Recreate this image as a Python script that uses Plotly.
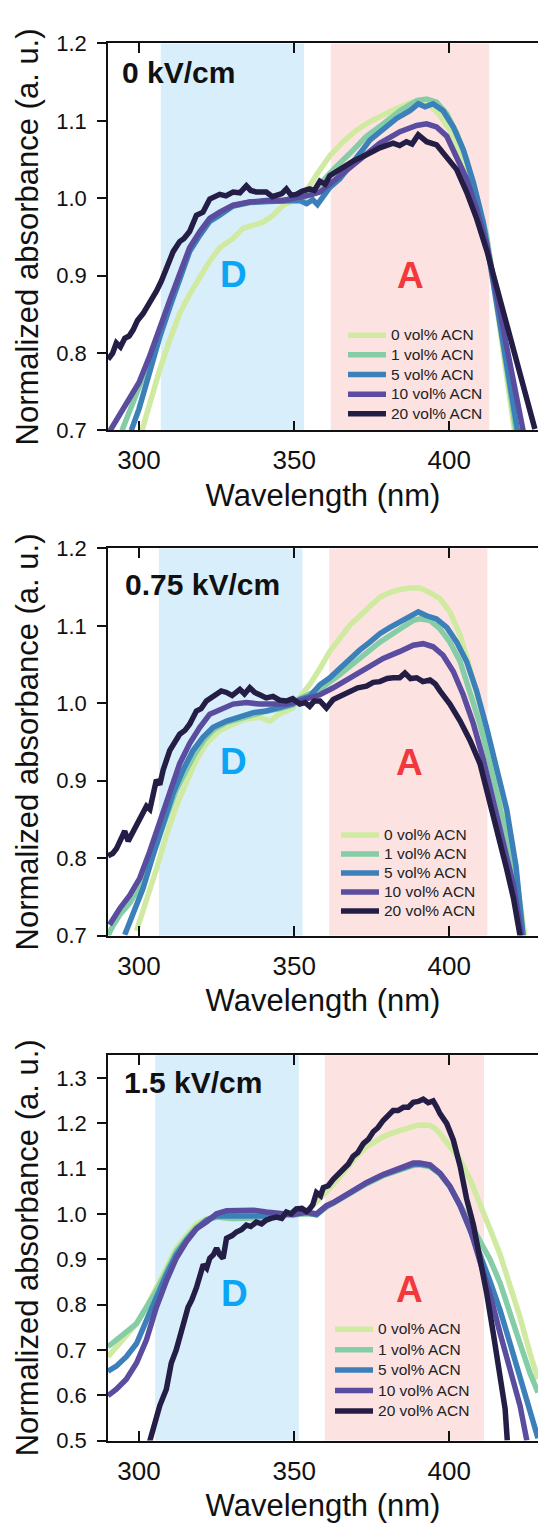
import plotly.graph_objects as go

# ---------------- data ----------------
series_names = ["0 vol% ACN", "1 vol% ACN", "5 vol% ACN", "10 vol% ACN", "20 vol% ACN"]
series_colors = ["#d0eaa2", "#85cda6", "#3b80b9", "#5a4c9f", "#241e46"]
panel_titles = ["0 kV/cm", "0.75 kV/cm", "1.5 kV/cm"]
x_tick_vals = [300, 350, 400]
y_ranges = [[0.7, 1.2], [0.7, 1.2], [0.5, 1.35]]
y_tick0 = [0.7, 0.7, 0.5]
d_regions = [[307.0, 353.2], [306.4, 352.7], [305.2, 351.5]]
a_regions = [[361.8, 412.9], [361.3, 412.3], [359.9, 411.2]]

# ---- panel 1: 0 kV/cm ----
p1_wl_0 = [300.8, 303.4, 306.7, 309.9, 313.1, 316.3, 319.6, 322.8, 326, 330.3, 333.5, 336.8, 340, 343.2, 346.5, 349.7,
           352, 354.7, 357.2, 359.1, 361.5, 365.8, 370.1, 374.4, 378.7, 383, 387.3, 390.5, 393.8, 397, 400.2, 403.5,
           406.7, 409.9, 413, 416, 419, 421]
p1_ab_0 = [0.698, 0.736, 0.779, 0.817, 0.851, 0.876, 0.897, 0.919, 0.936, 0.948, 0.961, 0.965, 0.969, 0.978, 0.991, 0.997,
           1.005, 1.014, 1.030, 1.040, 1.055, 1.073, 1.088, 1.099, 1.108, 1.116, 1.123, 1.127, 1.120, 1.107, 1.088, 1.055,
           1.015, 0.975, 0.925, 0.845, 0.765, 0.700]
p1_wl_1 = [294.5, 297, 300, 303.4, 306.7, 309.9, 313.1, 316.3, 319.6, 322.8, 326, 330.3, 335.7, 341, 346.4, 350.7, 353,
           357, 362.6, 368, 373.3, 378.7, 384.1, 389.5, 392.7, 395.9, 399.2, 402.4, 405.6, 408.8, 412, 415, 418, 421.5]
p1_ab_1 = [0.700, 0.725, 0.752, 0.790, 0.828, 0.863, 0.898, 0.933, 0.954, 0.972, 0.980, 0.990, 0.994, 0.996, 0.997, 1.000, 1.000,
           1.012, 1.037, 1.058, 1.080, 1.096, 1.113, 1.126, 1.128, 1.124, 1.109, 1.084, 1.050, 1.003, 0.952, 0.875, 0.795, 0.700]
p1_wl_5 = [297.5, 300, 303.4, 306.7, 309.9, 313.1, 316.3, 319.6, 322.8, 326, 330.3, 335.7, 341, 346.4, 349, 351.8, 354,
           356, 357.5, 359.5, 361.5, 364.7, 368, 371.2, 374.4, 378.7, 383, 387.3, 390, 392.2, 394.8, 398, 401.3, 404.5,
           407.8, 411, 414, 417, 420, 422]
p1_ab_5 = [0.700, 0.728, 0.775, 0.821, 0.859, 0.893, 0.931, 0.952, 0.970, 0.978, 0.990, 0.995, 0.996, 0.997, 0.998, 0.997, 0.993,
           0.998, 0.992, 1.003, 1.014, 1.025, 1.041, 1.058, 1.075, 1.090, 1.103, 1.113, 1.122, 1.118, 1.122, 1.113, 1.092, 1.063,
           1.020, 0.968, 0.895, 0.820, 0.748, 0.700]
p1_wl_10 = [290.4, 293.6, 296.8, 300, 303.4, 306.7, 309.9, 313.1, 316.3, 319.6, 322.8, 326, 330.3, 335.7, 341, 346.4, 350.7,
            355, 358.3, 364.7, 371.2, 377.6, 384.1, 389.5, 392.7, 395.9, 399.2, 402.4, 405.6, 408.8, 412, 415, 418, 421, 423.8]
p1_ab_10 = [0.698, 0.720, 0.739, 0.762, 0.796, 0.834, 0.868, 0.902, 0.936, 0.957, 0.974, 0.982, 0.991, 0.995, 0.997, 0.997, 1.000,
            1.004, 1.008, 1.029, 1.052, 1.071, 1.086, 1.094, 1.096, 1.092, 1.080, 1.054, 1.025, 0.986, 0.942, 0.880, 0.818, 0.757, 0.700]
p1_wl_20 = [290, 291.5, 292.7, 294, 295.4, 296.8, 298.1, 299.5, 301.3, 303.4, 305.6, 307.2, 308.8, 311, 313.1, 314.5, 316.3,
            318.5, 320.6, 322.8, 326, 328, 330.3, 332.5, 334.6, 336, 337.8, 341, 343, 344.3, 346, 347.5, 349, 350.7, 352.5,
            355, 356.5, 358.3, 360, 361.5, 364.7, 369, 373.3, 377.6, 381.9, 384, 386.2, 388, 390, 391.5, 392.7, 395.9,
            399.2, 402.4, 405.6, 408.8, 412.2, 416.6, 421, 424.3, 427.6]
p1_ab_20 = [0.792, 0.800, 0.813, 0.808, 0.819, 0.822, 0.830, 0.842, 0.851, 0.864, 0.880, 0.893, 0.910, 0.931, 0.944, 0.948, 0.957,
            0.978, 0.982, 0.999, 1.005, 1.003, 1.008, 1.007, 1.016, 1.010, 1.008, 1.008, 1.002, 1.003, 1.006, 1.012, 1.004, 1.005, 1.009,
            1.012, 1.010, 1.022, 1.018, 1.029, 1.037, 1.048, 1.056, 1.065, 1.071, 1.068, 1.073, 1.070, 1.082, 1.076, 1.073, 1.069,
            1.054, 1.037, 1.008, 0.974, 0.931, 0.867, 0.804, 0.753, 0.702]

# ---- panel 2: 0.75 kV/cm ----
p2_wl_0 = [299.2, 302.4, 305.6, 308.8, 312, 315.2, 318.5, 321.7, 326, 330.3, 334.6, 338.9, 342.2, 345.3, 349.6, 351.8, 355,
           358.3, 361.5, 364.7, 368, 371.2, 374.4, 377.6, 380.9, 384.1, 387.3, 390.5, 393.8, 397, 400.2, 403.5, 406.7,
           409.9, 413.1, 416.4, 419.6, 422.5, 424.3]
p2_ab_0 = [0.706, 0.744, 0.786, 0.829, 0.867, 0.897, 0.927, 0.948, 0.965, 0.973, 0.980, 0.982, 0.977, 0.986, 0.994, 1.008, 1.024,
           1.045, 1.067, 1.084, 1.101, 1.113, 1.126, 1.137, 1.143, 1.147, 1.149, 1.149, 1.143, 1.135, 1.118, 1.088, 1.045,
           0.999, 0.948, 0.892, 0.825, 0.750, 0.700]
p2_wl_1 = [290, 291.5, 294, 297, 300, 303, 306, 309, 312, 315, 318, 321, 324, 328, 332.5, 336.8, 341, 345.3, 349.6, 351.8,
           358.3, 364.7, 371.2, 377.6, 384.1, 388.4, 390.5, 393.8, 397, 400.2, 403.5, 406.7, 409.9, 413.1, 416.4, 419.6,
           422.5, 423.8]
p2_ab_1 = [0.700, 0.712, 0.728, 0.742, 0.762, 0.790, 0.823, 0.858, 0.888, 0.912, 0.935, 0.953, 0.966, 0.975, 0.980, 0.986, 0.990,
           0.993, 0.998, 1.006, 1.018, 1.037, 1.058, 1.079, 1.096, 1.107, 1.109, 1.107, 1.096, 1.079, 1.054, 1.016, 0.973, 0.922,
           0.867, 0.808, 0.745, 0.700]
p2_wl_5 = [295.4, 298.1, 301.3, 304.5, 307.8, 311, 314.2, 317.4, 320.6, 323.9, 328.2, 332.5, 336.8, 341, 345.3, 349.6, 351.8,
           355, 358.3, 361.5, 364.7, 368, 371.2, 374.4, 377.6, 380.9, 384.1, 387.3, 390, 392.7, 395.9, 399.2, 402.4, 405.6,
           408.8, 412, 415.3, 418.5, 421.5, 423.8]
p2_ab_5 = [0.701, 0.727, 0.761, 0.803, 0.846, 0.884, 0.914, 0.939, 0.956, 0.969, 0.977, 0.982, 0.988, 0.990, 0.994, 0.999, 1.005,
           1.009, 1.024, 1.033, 1.045, 1.058, 1.069, 1.079, 1.090, 1.098, 1.105, 1.111, 1.118, 1.113, 1.109, 1.098, 1.079, 1.054,
           1.016, 0.969, 0.918, 0.863, 0.790, 0.700]
p2_wl_10 = [290.5, 293.8, 297, 300.2, 303.4, 306.7, 309.9, 313.1, 316.3, 319.6, 322.8, 326, 330.3, 334.6, 338.9, 343.2, 347.5,
            351.8, 358.3, 362.6, 368, 373.3, 378.7, 384.1, 388.4, 391.6, 394.8, 398, 401.3, 404.5, 407.8, 411, 414.2, 417.4,
            420.7, 423.3]
p2_ab_10 = [0.714, 0.735, 0.752, 0.774, 0.808, 0.846, 0.884, 0.922, 0.948, 0.969, 0.986, 0.992, 0.999, 1.001, 0.999, 0.999, 0.999,
            1.003, 1.011, 1.020, 1.033, 1.045, 1.058, 1.067, 1.075, 1.077, 1.073, 1.062, 1.041, 1.011, 0.973, 0.927, 0.876, 0.820,
            0.765, 0.700]
p2_wl_20 = [290, 291.5, 292.7, 294, 295.4, 296.5, 297.5, 299.2, 300.8, 302.4, 303.5, 304.5, 305.6, 306.7, 307.8, 309.9, 311.5,
            313.1, 314.8, 316.3, 318.5, 320, 321.7, 323.3, 324.9, 326.5, 328.2, 330, 332.5, 334, 335.7, 337.3, 338.9, 341,
            343.2, 345.3, 347.5, 349.5, 351.8, 353.5, 355, 356.5, 358.3, 360.4, 362.6, 365, 368, 370.5, 373.3, 375.5, 377.6,
            380, 381.9, 384, 385.7, 387.5, 389.5, 391.5, 393.8, 395.5, 397, 400.2, 403.5, 406.7, 409.9, 412.1, 414.2, 416.4,
            418.5, 420.7, 422.8]
p2_ab_20 = [0.803, 0.806, 0.812, 0.822, 0.835, 0.822, 0.830, 0.842, 0.857, 0.867, 0.863, 0.880, 0.901, 0.895, 0.914, 0.939, 0.948,
            0.960, 0.965, 0.973, 0.990, 0.993, 1.003, 1.008, 1.011, 1.016, 1.014, 1.010, 1.018, 1.012, 1.020, 1.014, 1.011, 1.007,
            1.009, 1.004, 1.003, 1.006, 0.999, 1.001, 0.996, 1.003, 1.003, 0.994, 1.005, 1.010, 1.016, 1.020, 1.022, 1.027, 1.028,
            1.032, 1.033, 1.033, 1.039, 1.032, 1.033, 1.028, 1.030, 1.025, 1.016, 0.999, 0.977, 0.952, 0.922, 0.888, 0.850, 0.816,
            0.786, 0.748, 0.700]

# ---- panel 3: 1.5 kV/cm ----
p3_wl_0 = [290, 292.7, 295.9, 299.2, 302.4, 305.6, 308.8, 312, 315.3, 318.5, 321.7, 325, 330.3, 335.7, 341, 346.4, 350.7, 354,
           357.2, 360, 362.6, 365.5, 368, 370.5, 373.3, 376, 378.7, 381.5, 384.1, 386.8, 389.5, 391.6, 393.8, 395.5, 397,
           400.2, 403.5, 406.7, 409.9, 413.1, 416.4, 419.6, 422.8, 426, 428.6]
p3_ab_0 = [0.685, 0.707, 0.729, 0.758, 0.794, 0.837, 0.881, 0.924, 0.953, 0.978, 0.989, 0.993, 0.989, 0.989, 0.993, 0.996, 0.998,
           1.005, 1.025, 1.045, 1.065, 1.090, 1.110, 1.130, 1.148, 1.160, 1.170, 1.178, 1.184, 1.190, 1.195, 1.196, 1.195, 1.188,
           1.177, 1.148, 1.119, 1.076, 1.025, 0.967, 0.910, 0.845, 0.772, 0.693, 0.635]
p3_wl_1 = [290, 292.7, 295.9, 299.2, 302.4, 305.6, 308.8, 312, 315.3, 318.5, 321.7, 325, 330, 335, 340, 345, 350, 354, 357.2,
           360.4, 362.6, 368, 373.3, 378.7, 384.1, 388.4, 390.5, 393.8, 397, 400.2, 403.5, 406.7, 409.9, 413.1, 416.4, 419.6,
           422.8, 426, 428.6]
p3_ab_1 = [0.707, 0.722, 0.736, 0.758, 0.794, 0.830, 0.873, 0.917, 0.946, 0.971, 0.986, 0.993, 0.990, 0.990, 0.992, 0.995, 0.998,
           1.000, 0.998, 1.016, 1.023, 1.045, 1.066, 1.084, 1.098, 1.107, 1.108, 1.104, 1.088, 1.060, 1.020, 0.980, 0.945, 0.900,
           0.847, 0.785, 0.714, 0.649, 0.606]
p3_wl_5 = [290, 292.7, 295.9, 299.2, 302.4, 305.6, 308.8, 312, 315.3, 318.5, 321.7, 325, 330, 335, 340, 345, 350, 354, 357.2,
           360.4, 362.6, 368, 373.3, 378.7, 384.1, 388.4, 390.5, 393.8, 397, 400.2, 403.5, 406.7, 409.9, 413.1, 416.4, 419.6,
           422.8, 426, 428.6]
p3_ab_5 = [0.653, 0.664, 0.685, 0.714, 0.765, 0.816, 0.866, 0.910, 0.942, 0.967, 0.986, 0.996, 0.997, 0.995, 0.995, 0.997, 0.999,
           1.003, 0.998, 1.016, 1.024, 1.046, 1.068, 1.086, 1.100, 1.109, 1.110, 1.106, 1.089, 1.060, 1.018, 0.967, 0.910, 0.852,
           0.787, 0.714, 0.642, 0.570, 0.505]
p3_wl_10 = [290, 292.7, 295.9, 299.2, 302.4, 305.6, 308.8, 312, 315.3, 318.5, 321.7, 325, 328.2, 332.5, 336.8, 341, 345.3, 349.6,
            354, 357.2, 360.4, 362.6, 368, 373.3, 378.7, 384.1, 388.4, 390.5, 393.8, 397, 400.2, 403.5, 406.7, 409.9, 413.1,
            416.4, 419.6, 422.8, 425]
p3_ab_10 = [0.599, 0.613, 0.635, 0.671, 0.722, 0.794, 0.852, 0.902, 0.939, 0.967, 0.982, 1.000, 1.007, 1.008, 1.008, 1.004, 1.000,
            0.998, 1.004, 1.000, 1.018, 1.025, 1.047, 1.069, 1.087, 1.101, 1.112, 1.112, 1.108, 1.090, 1.061, 1.018, 0.967, 0.895,
            0.823, 0.736, 0.657, 0.577, 0.500]
p3_wl_20 = [303.4, 305.1, 306.7, 308.8, 310.4, 312, 314.2, 315.8, 317, 318.5, 320.7, 321.8, 322.8, 324, 325, 326, 327.1, 328.2,
            330, 331.4, 333, 334.6, 336, 337.8, 339.5, 341, 342.5, 344.3, 346, 347.5, 349, 350.7, 352.5, 354, 355, 356, 357.2,
            358.5, 359.4, 361, 362.6, 364, 365.8, 367.5, 369, 370.5, 372.3, 374, 375.5, 377, 378.7, 380.3, 381.9, 383.5,
            385.2, 386.8, 388.4, 390, 391.6, 393.2, 394.8, 396, 397, 399.2, 401.3, 403.5, 405.6, 407.8, 409.9, 412.1, 414.2,
            416.4, 418, 418.7]
p3_ab_20 = [0.497, 0.541, 0.577, 0.613, 0.671, 0.700, 0.758, 0.794, 0.810, 0.837, 0.888, 0.880, 0.902, 0.910, 0.924, 0.910, 0.902,
            0.946, 0.952, 0.960, 0.965, 0.975, 0.972, 0.982, 0.978, 0.986, 0.990, 0.993, 0.990, 1.004, 1.000, 1.011, 1.012, 1.005,
            1.011, 1.020, 1.047, 1.040, 1.058, 1.062, 1.076, 1.085, 1.098, 1.110, 1.127, 1.135, 1.155, 1.165, 1.181, 1.190, 1.206,
            1.218, 1.228, 1.228, 1.235, 1.235, 1.246, 1.248, 1.253, 1.245, 1.249, 1.235, 1.221, 1.199, 1.163, 1.105, 1.033, 0.975,
            0.902, 0.823, 0.736, 0.649, 0.570, 0.500]

panels = [
    [(p1_wl_0, p1_ab_0), (p1_wl_1, p1_ab_1), (p1_wl_5, p1_ab_5), (p1_wl_10, p1_ab_10), (p1_wl_20, p1_ab_20)],
    [(p2_wl_0, p2_ab_0), (p2_wl_1, p2_ab_1), (p2_wl_5, p2_ab_5), (p2_wl_10, p2_ab_10), (p2_wl_20, p2_ab_20)],
    [(p3_wl_0, p3_ab_0), (p3_wl_1, p3_ab_1), (p3_wl_5, p3_ab_5), (p3_wl_10, p3_ab_10), (p3_wl_20, p3_ab_20)],
]

# annotation positions (data coordinates)
title_pos = [(294.0, 1.162), (294.7, 1.154), (294.4, 1.289)]
d_pos = [(330.5, 0.902), (330.3, 0.925), (330.9, 0.825)]
a_pos = [(387.4, 0.900), (387.3, 0.923), (387.3, 0.834)]

# ---------------- layout geometry ----------------
W, H = 538, 1539
y_domains = [[0.72359, 0.97927], [0.38999, 0.64568], [0.05647, 0.31098]]
legend_pos = [(0.5465, 0.7963), (0.5302, 0.4660), (0.5163, 0.1400)]
legend_base_size = [12.8, 11.9, 13.4]   # controls row spacing
LEGEND_TEXT_SIZE = 15.5

FONT = "Liberation Sans, Arial, Helvetica, sans-serif"

fig = go.Figure()
layout = dict(
    width=W, height=H,
    margin=dict(l=108, r=0, t=0, b=0),
    paper_bgcolor="white", plot_bgcolor="white",
    font=dict(family=FONT, color="#111"),
    showlegend=True,
)
annotations = []
shapes = []

for i in range(3):
    sfx = "" if i == 0 else str(i + 1)
    xa, ya = "x" + sfx, "y" + sfx
    leg = "legend" + sfx
    for k, (wl, ab) in enumerate(panels[i]):
        fig.add_trace(go.Scatter(
            x=wl, y=ab, mode="lines",
            name="<span style='font-size:%gpx'>%s</span>" % (LEGEND_TEXT_SIZE, series_names[k]),
            line=dict(color=series_colors[k], width=5.5),
            xaxis=xa, yaxis=ya, legend=leg, showlegend=True,
        ))
    layout["xaxis" + sfx] = dict(
        domain=[0, 1], anchor=ya, range=[290, 428.6],
        tickvals=x_tick_vals, ticks="inside", ticklen=10, tickwidth=1.6, tickcolor="#111",
        showline=True, linecolor="#111", linewidth=1.6, mirror="ticks",
        showgrid=False, zeroline=False,
        tickfont=dict(size=26, family=FONT, color="#111"),
        ticklabelstandoff=6,
        title=dict(text="Wavelength (nm)", font=dict(size=31, family=FONT, color="#111"), standoff=10),
    )
    layout["yaxis" + sfx] = dict(
        domain=y_domains[i], anchor=xa, range=y_ranges[i],
        tick0=y_tick0[i], dtick=0.1, tickformat=".1f",
        ticks="outside", ticklen=9, tickwidth=1.6, tickcolor="#111",
        showline=True, linecolor="#111", linewidth=1.6, mirror=False,
        showgrid=False, zeroline=False,
        tickfont=dict(size=22, family=FONT, color="#111"),
        ticklabelstandoff=6,
        title=dict(text="Normalized absorbance (a. u.)", font=dict(size=31, family=FONT, color="#111"), standoff=8),
    )
    layout[leg] = dict(
        x=legend_pos[i][0], y=legend_pos[i][1], xanchor="left", yanchor="top",
        xref="paper", yref="paper",
        bgcolor="rgba(0,0,0,0)", borderwidth=0,
        font=dict(size=legend_base_size[i], family=FONT, color="#222"),
        tracegroupgap=0, itemwidth=38,
    )
    # shaded regions
    shapes.append(dict(type="rect", xref=xa, yref=ya + " domain", x0=d_regions[i][0], x1=d_regions[i][1],
                       y0=0, y1=1, fillcolor="#d8eefb", line=dict(width=0), layer="below"))
    shapes.append(dict(type="rect", xref=xa, yref=ya + " domain", x0=a_regions[i][0], x1=a_regions[i][1],
                       y0=0, y1=1, fillcolor="#fde2e2", line=dict(width=0), layer="below"))
    annotations.append(dict(xref=xa, yref=ya, x=title_pos[i][0], y=title_pos[i][1], text="<b>%s</b>" % panel_titles[i],
                            showarrow=False, xanchor="left", yanchor="middle",
                            font=dict(size=30, family=FONT, color="#111")))
    annotations.append(dict(xref=xa, yref=ya, x=d_pos[i][0], y=d_pos[i][1], text="<b>D</b>",
                            showarrow=False, xanchor="center", yanchor="middle",
                            font=dict(size=37, family=FONT, color="#0aa6f5")))
    annotations.append(dict(xref=xa, yref=ya, x=a_pos[i][0], y=a_pos[i][1], text="<b>A</b>",
                            showarrow=False, xanchor="center", yanchor="middle",
                            font=dict(size=37, family=FONT, color="#f2383c")))

layout["shapes"] = shapes
layout["annotations"] = annotations
fig.update_layout(**layout)
fig.write_html("out.html")
